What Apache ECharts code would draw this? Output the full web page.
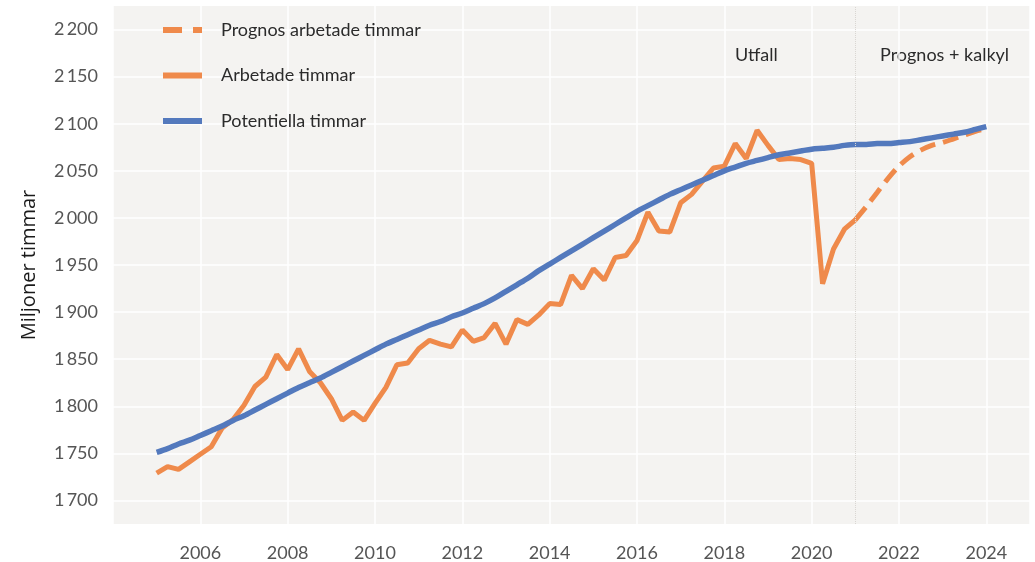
<!DOCTYPE html>
<html>
<head>
<meta charset="utf-8">
<script src="https://cdn.jsdelivr.net/npm/echarts@6/dist/echarts.min.js"></script>
<style>
html,body{margin:0;padding:0;background:#fff;}
#chart{width:1035px;height:562px;}
</style>
</head>
<body>
<div id="chart"></div>
<script>
// Quarterly data, first quarter = 2005
const startYear = 2005;
const seriesNames = ['Prognos arbetade timmar', 'Arbetade timmar', 'Potentiella timmar'];

// Arbetade timmar (utfall) 2005Q1 - 2021Q1
const arbetade = [
  1729, 1736, 1733, 1741,
  1749, 1757, 1777, 1786,
  1801, 1821, 1831, 1855,
  1839, 1861, 1837, 1825,
  1808, 1785, 1794, 1785,
  1803, 1820, 1844, 1846,
  1861, 1870, 1866, 1863,
  1881, 1869, 1873, 1888,
  1866, 1892, 1887, 1897,
  1909, 1908, 1939, 1925,
  1946, 1934, 1958, 1960,
  1976, 2006, 1986, 1985,
  2016, 2025, 2039, 2053,
  2055, 2079, 2063, 2093,
  2077, 2062, 2063, 2062,
  2058, 1930, 1967, 1988,
  1998
];

// Prognos arbetade timmar 2021Q1 - 2024Q1
const prognosStartYear = 2021;
const prognos = [
  1998, 2012, 2027, 2042,
  2055, 2065, 2072, 2077,
  2080, 2084, 2088, 2092,
  2095
];

// Potentiella timmar 2005Q1 - 2024Q1
const potentiella = [
  1751, 1755, 1760, 1764,
  1769, 1774, 1779, 1785,
  1790, 1796, 1802, 1808,
  1814, 1820, 1825, 1830,
  1836, 1842, 1848, 1854,
  1860, 1866, 1871, 1876,
  1881, 1886, 1890, 1895,
  1899, 1904, 1909, 1915,
  1922, 1929, 1936, 1944,
  1951, 1958, 1965, 1972,
  1979, 1986, 1993, 2000,
  2007, 2013, 2019, 2025,
  2030, 2035, 2040, 2045,
  2050, 2054, 2058, 2061,
  2064, 2067, 2069, 2071,
  2073, 2074, 2075, 2077,
  2078, 2078, 2079, 2079,
  2080, 2081, 2083, 2085,
  2087, 2089, 2091, 2094,
  2097
];

const xTickYears = [2006, 2008, 2010, 2012, 2014, 2016, 2018, 2020, 2022, 2024];
const yTickValues = [1700, 1750, 1800, 1850, 1900, 1950, 2000, 2050, 2100, 2150, 2200];
const dividerYear = 2021;
const annotations = ['Utfall', 'Prognos + kalkyl'];

function toPairs(start, arr) {
  return arr.map((v, i) => [start + i * 0.25, v]);
}
function fmtY(v) {
  const s = String(v);
  return s.slice(0, 1) + '\u2009' + s.slice(1);
}

const ORANGE = '#EF8A4B';
const BLUE = '#5379BD';
const FONT = 'Lato';
const ICON_DASHED = 'path://M0,0H19V6H0Z M30,0H39V6H30Z';
const ICON_SOLID = 'path://M0,0H39V6H0Z';

const chart = echarts.init(document.getElementById('chart'), null, {renderer: 'canvas'});
chart.setOption({
  animation: false,
  backgroundColor: '#ffffff',
  textStyle: {fontFamily: FONT},
  grid: {
    left: 113, right: 5, top: 6, bottom: 33,
    show: true, backgroundColor: '#F4F3F1', borderWidth: 0
  },
  legend: {
    orient: 'vertical',
    left: 158, top: 16,
    itemWidth: 39, itemHeight: 6, itemGap: 27.5,
    data: [
      {name: seriesNames[0], icon: ICON_DASHED},
      {name: seriesNames[1], icon: ICON_SOLID},
      {name: seriesNames[2], icon: ICON_SOLID}
    ],
    itemStyle: {borderWidth: 0},
    textStyle: {fontFamily: FONT, fontSize: 18, color: '#2b2b2b', padding: [0, 0, 0, 14]}
  },
  xAxis: {
    type: 'value',
    min: 2004, max: 2025, interval: 2,
    axisLine: {show: false}, axisTick: {show: false},
    axisLabel: {
      fontFamily: FONT, fontSize: 18, color: '#555', margin: 20,
      showMinLabel: false, showMaxLabel: false,
      formatter: v => xTickYears.includes(v) ? String(v) : ''
    },
    splitLine: {show: true, lineStyle: {color: '#ffffff', width: 1.5}}
  },
  yAxis: {
    type: 'value',
    min: 1675, max: 2225, interval: 25,
    name: 'Miljoner timmar',
    nameLocation: 'middle', nameRotate: 90, nameGap: 74,
    nameTextStyle: {fontFamily: 'Open Sans', fontSize: 20, color: '#1a1a1a'},
    axisLine: {show: false}, axisTick: {show: false},
    axisLabel: {
      fontFamily: FONT, fontSize: 18, color: '#555', margin: 15,
      formatter: v => yTickValues.includes(v) ? fmtY(v) : ''
    },
    splitLine: {show: true, lineStyle: {color: ['rgba(0,0,0,0)', '#ffffff'], width: 1.5}}
  },
  graphic: [
    {type: 'text', left: 735, top: 46, style: {text: annotations[0], font: '18px Lato', fill: '#2b2b2b'}},
    {type: 'text', left: 880, top: 46, style: {text: annotations[1], font: '18px Lato', fill: '#2b2b2b'}}
  ],
  series: [
    {
      name: seriesNames[0], type: 'line', smooth: 0.3,
      symbol: 'none', data: toPairs(prognosStartYear, prognos),
      itemStyle: {color: ORANGE},
      lineStyle: {color: ORANGE, width: 5, type: [16, 8]},
      z: 2
    },
    {
      name: seriesNames[1], type: 'line',
      symbol: 'none', data: toPairs(startYear, arbetade),
      itemStyle: {color: ORANGE},
      lineStyle: {color: ORANGE, width: 5},
      z: 3,
      markLine: {
        silent: true, symbol: 'none', label: {show: false},
        lineStyle: {color: '#d9d6d2', type: 'dotted', width: 1},
        data: [{xAxis: dividerYear}]
      }
    },
    {
      name: seriesNames[2], type: 'line', smooth: 0.3,
      symbol: 'none', data: toPairs(startYear, potentiella),
      itemStyle: {color: BLUE},
      lineStyle: {color: BLUE, width: 5.5},
      z: 4
    }
  ]
});
</script>
</body>
</html>
